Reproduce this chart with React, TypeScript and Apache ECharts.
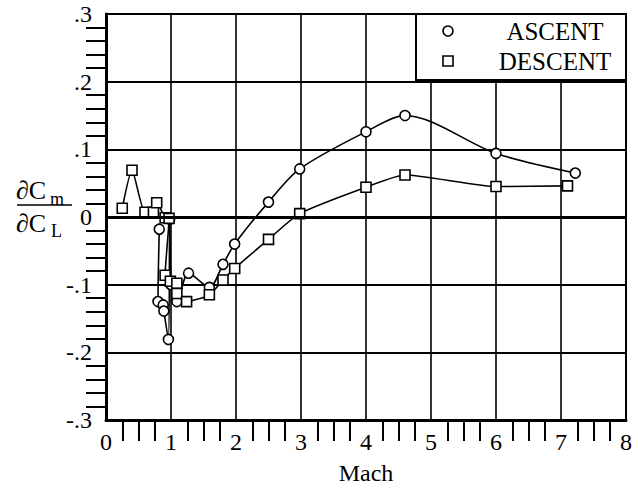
import React, { useEffect, useRef } from "react";
import * as echarts from "echarts";

const machTicks = [0, 1, 2, 3, 4, 5, 6, 7, 8];
const dcmTicks = [-0.3, -0.2, -0.1, 0, 0.1, 0.2, 0.3];

const ascentMach = [0.82, 0.8, 0.88, 0.89, 0.96, 0.98, 1.0, 1.09, 1.27, 1.59, 1.8, 1.98, 2.5, 2.98, 4.0, 4.6, 6.0, 7.22];
const ascentDCm = [-0.018, -0.125, -0.13, -0.139, -0.181, -0.003, -0.1, -0.125, -0.083, -0.104, -0.07, -0.04, 0.022, 0.071, 0.126, 0.15, 0.094, 0.065];

const descentMach = [0.25, 0.4, 0.6, 0.73, 0.78, 0.91, 0.97, 0.91, 0.99, 1.09, 1.09, 1.24, 1.59, 1.8, 1.98, 2.5, 2.98, 4.0, 4.6, 6.0, 7.1];
const descentDCm = [0.013, 0.069, 0.007, 0.007, 0.021, -0.001, -0.002, -0.086, -0.095, -0.098, -0.113, -0.125, -0.115, -0.093, -0.076, -0.033, 0.005, 0.044, 0.062, 0.045, 0.046];

const seriesNames = ["ASCENT", "DESCENT"];

const SERIF = "Liberation Serif";

function fmtY(v: number) {
  if (Math.abs(v) < 1e-9) return "0";
  const s = Math.abs(v).toFixed(1).replace(/^0/, "");
  return (v < 0 ? "-" : "") + s;
}

export default function App() {
  const ref = useRef<HTMLDivElement>(null);
  useEffect(() => {
    const chart = echarts.init(ref.current!, null, { renderer: "svg" });
    const asc = ascentMach.map((m, i) => [m, ascentDCm[i]]);
    const des = descentMach.map((m, i) => [m, descentDCm[i]]);
    chart.setOption({
      animation: false,
      backgroundColor: "#fff",
      textStyle: { fontFamily: SERIF },
      grid: {
        left: 106,
        right: 12,
        top: 14,
        bottom: 65,
        show: true,
        borderColor: "#000",
        borderWidth: 2,
        backgroundColor: "transparent",
      },
      xAxis: {
        type: "value",
        min: machTicks[0],
        max: machTicks[machTicks.length - 1],
        interval: 1,
        name: "Mach",
        nameLocation: "middle",
        nameGap: 41,
        nameTextStyle: { color: "#000", fontFamily: SERIF, fontSize: 24 },
        axisLine: { show: true, onZero: false, lineStyle: { color: "#000", width: 3 } },
        axisTick: { show: false },
        minorTick: { show: true, splitNumber: 4, length: 21, lineStyle: { color: "#000", width: 2 } },
        splitLine: { show: true, lineStyle: { color: "#000", width: 1.6 } },
        axisLabel: { color: "#000", fontFamily: SERIF, fontSize: 24, margin: 10 },
      },
      yAxis: {
        type: "value",
        min: dcmTicks[0],
        max: dcmTicks[dcmTicks.length - 1],
        interval: 0.1,
        axisLine: { show: true, onZero: false, lineStyle: { color: "#000", width: 3 } },
        axisTick: { show: false },
        minorTick: { show: true, splitNumber: 5, length: 20, lineStyle: { color: "#000", width: 2 } },
        splitLine: { show: true, lineStyle: { color: "#000", width: 2 } },
        axisLabel: { color: "#000", fontFamily: SERIF, fontSize: 24, margin: 14, formatter: fmtY },
      },
      series: [
        {
          name: seriesNames[0],
          type: "line",
          data: asc,
          smooth: 0.3,
          symbol: "circle",
          symbolSize: 10,
          lineStyle: { color: "#000", width: 1.6 },
          itemStyle: { color: "#fff", borderColor: "#000", borderWidth: 1.6 },
          markLine: {
            silent: true,
            symbol: "none",
            label: { show: false },
            lineStyle: { color: "#000", width: 3, type: "solid" },
            data: [{ yAxis: 0 }],
          },
          z: 3,
        },
        {
          name: seriesNames[1],
          type: "line",
          data: des,
          smooth: 0.2,
          symbol: "rect",
          symbolSize: 10,
          lineStyle: { color: "#000", width: 1.6 },
          itemStyle: { color: "#fff", borderColor: "#000", borderWidth: 1.6 },
          z: 3,
        },
      ],
      graphic: [
        {
          type: "rect",
          shape: { x: 416, y: 14, width: 210, height: 66 },
          style: { fill: "#fff", stroke: "#000", lineWidth: 2 },
          z: 10,
        },
        {
          type: "circle",
          shape: { cx: 448, cy: 31, r: 5 },
          style: { fill: "#fff", stroke: "#000", lineWidth: 1.6 },
          z: 11,
        },
        {
          type: "rect",
          shape: { x: 443, y: 56, width: 10, height: 10 },
          style: { fill: "#fff", stroke: "#000", lineWidth: 1.6 },
          z: 11,
        },
        {
          type: "text",
          x: 555,
          y: 31,
          style: { text: seriesNames[0], fill: "#000", fontFamily: SERIF, fontSize: 25, align: "center", verticalAlign: "middle" },
          z: 11,
        },
        {
          type: "text",
          x: 555,
          y: 61,
          style: { text: seriesNames[1], fill: "#000", fontFamily: SERIF, fontSize: 25, align: "center", verticalAlign: "middle" },
          z: 11,
        },
        {
          type: "text",
          x: 16,
          y: 190,
          style: { text: "∂C", fill: "#000", fontFamily: SERIF, fontSize: 26, align: "left", verticalAlign: "middle" },
        },
        {
          type: "text",
          x: 50,
          y: 199,
          style: { text: "m", fill: "#000", fontFamily: SERIF, fontSize: 18, align: "left", verticalAlign: "middle" },
        },
        {
          type: "line",
          shape: { x1: 17, y1: 205, x2: 72, y2: 205 },
          style: { stroke: "#000", lineWidth: 1.6 },
        },
        {
          type: "text",
          x: 16,
          y: 223,
          style: { text: "∂C", fill: "#000", fontFamily: SERIF, fontSize: 26, align: "left", verticalAlign: "middle" },
        },
        {
          type: "text",
          x: 51,
          y: 231,
          style: { text: "L", fill: "#000", fontFamily: SERIF, fontSize: 18, align: "left", verticalAlign: "middle" },
        },
      ],
    });
    return () => chart.dispose();
  }, []);
  return <div ref={ref} style={{ width: 638, height: 490, position: "absolute", left: 0, top: 0 }} />;
}
